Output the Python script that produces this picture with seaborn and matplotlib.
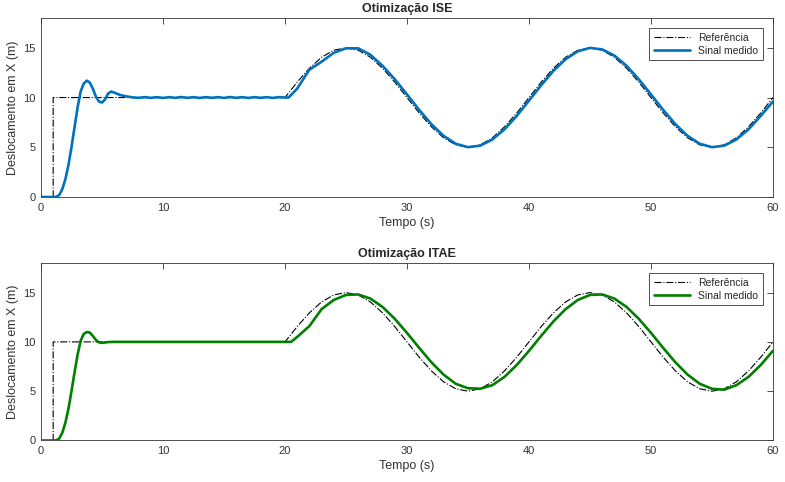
import matplotlib.pyplot as plt
import seaborn as sns

# reference signal: step at t=1, sine from t=20
REF_T = [0, 1, 1, 20, 21, 22, 23, 24, 25, 26, 27, 28, 29, 30, 31, 32, 33, 34, 35, 36,
         37, 38, 39, 40, 41, 42, 43, 44, 45, 46, 47, 48, 49, 50, 51, 52, 53, 54, 55,
         56, 57, 58, 59, 60]
REF_Y = [0, 0, 10, 10, 11.55, 12.94, 14.05, 14.76, 15.0, 14.76, 14.05, 12.94, 11.55,
         10.0, 8.45, 7.06, 5.95, 5.24, 5.0, 5.24, 5.95, 7.06, 8.45, 10.0, 11.55, 12.94,
         14.05, 14.76, 15.0, 14.76, 14.05, 12.94, 11.55, 10.0, 8.45, 7.06, 5.95, 5.24,
         5.0, 5.24, 5.95, 7.06, 8.45, 10.0]

# ISE response
ISE_T = [0, 1.0, 1.25, 1.5, 1.75, 2.0, 2.25, 2.5, 2.75, 3.0, 3.25, 3.5, 3.75, 4.0, 4.25,
         4.5, 4.75, 5.0, 5.25, 5.5, 5.75, 6.0, 6.5, 7.0, 7.5, 8.0, 8.5, 9.0, 9.5, 10.0,
         10.5, 11.0, 11.5, 12.0, 12.5, 13.0, 13.5, 14.0, 14.5, 15.0, 15.5, 16.0, 16.5,
         17.0, 17.5, 18.0, 18.5, 19.0, 19.5, 20.0, 20.3, 21, 22, 23, 24, 25, 26, 27, 28,
         29, 30, 31, 32, 33, 34, 35, 36, 37, 38, 39, 40, 41, 42, 43, 44, 45, 46, 47, 48,
         49, 50, 51, 52, 53, 54, 55, 56, 57, 58, 59, 60]
ISE_Y = [0, 0, 0.02, 0.2, 0.8, 1.8, 3.2, 5.0, 7.0, 9.0, 10.6, 11.4, 11.7, 11.5, 10.9,
         10.1, 9.6, 9.5, 9.8, 10.4, 10.6, 10.5, 10.25, 10.12, 10.02, 9.97, 10.04, 9.97,
         10.04, 9.96, 10.04, 9.97, 10.05, 9.97, 10.04, 9.96, 10.04, 9.97, 10.04, 9.96,
         10.05, 9.97, 10.04, 9.96, 10.04, 9.97, 10.04, 9.96, 10.04, 10.0, 10.0, 10.9,
         12.8, 13.6, 14.5, 14.95, 14.95, 14.3, 13.19, 11.84, 10.31, 8.76, 7.32, 6.15,
         5.35, 5.01, 5.16, 5.78, 6.81, 8.16, 9.69, 11.24, 12.68, 13.85, 14.65, 14.99,
         14.84, 14.22, 13.19, 11.84, 10.31, 8.76, 7.32, 6.15, 5.35, 5.01, 5.16, 5.78,
         6.81, 8.16, 9.6]

# ITAE response
ITAE_T = [0, 1.0, 1.25, 1.5, 1.75, 2.0, 2.25, 2.5, 2.75, 3.0, 3.25, 3.5, 3.75, 4.0,
          4.25, 4.5, 4.75, 5.0, 5.5, 6.0, 20.5, 21, 22, 23, 24, 25, 26, 27, 28, 29, 30,
          31, 32, 33, 34, 35, 36, 37, 38, 39, 40, 41, 42, 43, 44, 45, 46, 47, 48, 49,
          50, 51, 52, 53, 54, 55, 56, 57, 58, 59, 60]
ITAE_Y = [0, 0, 0.02, 0.2, 0.8, 1.8, 3.2, 5.0, 6.9, 8.7, 10.1, 10.8, 11.0, 10.95, 10.6,
          10.2, 9.95, 9.9, 9.98, 10.0, 10.0, 10.5, 11.6, 13.32, 14.25, 14.76, 14.81,
          14.39, 13.54, 12.34, 10.91, 9.39, 7.93, 6.68, 5.75, 5.3, 5.25, 5.61, 6.46,
          7.66, 9.09, 10.61, 12.07, 13.32, 14.25, 14.76, 14.81, 14.39, 13.54, 12.34,
          10.91, 9.39, 7.93, 6.68, 5.75, 5.24, 5.15, 5.61, 6.46, 7.66, 9.1]

PANELS = [
    ("Otimização ISE", ISE_T, ISE_Y, "#0072BD", [0.0522, 0.5913, 0.9325, 0.3714]),
    ("Otimização ITAE", ITAE_T, ITAE_Y, "#007F00", [0.0522, 0.0861, 0.9325, 0.3683]),
]


def style_axis(ax, title):
    edge = "#333333"
    ax.set_xlim(0, 60)
    ax.set_ylim(0, 18)
    ax.set_xticks(range(0, 61, 10))
    ax.set_yticks([0, 5, 10, 15])
    ax.tick_params(direction="in", top=True, right=True, length=4, width=0.6,
                   labelsize=8, colors=edge, pad=4)
    for spine in ax.spines.values():
        spine.set_visible(True)
        spine.set_color(edge)
        spine.set_linewidth(0.6)
    ax.set_title(title, fontsize=9, fontweight="bold", pad=4)
    ax.set_xlabel("Tempo (s)", fontsize=9, color=edge, labelpad=3)
    ax.set_ylabel("Deslocamento em X (m)", fontsize=9, color=edge, labelpad=3)
    leg = ax.legend(loc="upper right", fontsize=7.5, frameon=True, fancybox=False,
                    borderaxespad=1.0, handlelength=3.5, borderpad=0.4,
                    labelspacing=0.3)
    leg.get_frame().set_edgecolor(edge)
    leg.get_frame().set_linewidth(0.6)
    leg.get_frame().set_alpha(1)


def main():
    sns.set_theme(style="white")
    plt.rcParams["font.family"] = ["Liberation Sans", "DejaVu Sans"]

    fig = plt.figure(figsize=(7.85, 4.82), dpi=100)
    for title, t, y, color, rect in PANELS:
        ax = fig.add_axes(rect)
        sns.lineplot(x=REF_T, y=REF_Y, ax=ax, color="black", linestyle="-.",
                     linewidth=0.8, estimator=None, sort=False, label="Referência")
        sns.lineplot(x=t, y=y, ax=ax, color=color, linewidth=1.9,
                     estimator=None, sort=False, label="Sinal medido")
        style_axis(ax, title)

    fig.savefig("out.png", dpi=100)
    plt.close(fig)


if __name__ == "__main__":
    main()
